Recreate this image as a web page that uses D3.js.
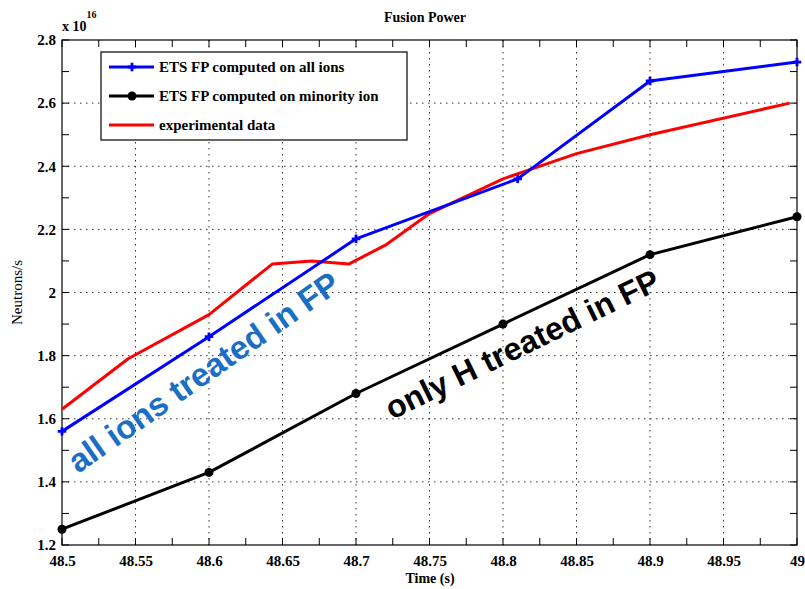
<!DOCTYPE html>
<html>
<head>
<meta charset="utf-8">
<script src="https://cdn.jsdelivr.net/npm/d3@7"></script>
<style>
  body { margin: 0; background: #fff; }
</style>
</head>
<body>
<script>
// values in units of 1e16 neutrons/s
var allIonsT = [48.5, 48.6, 48.7, 48.81, 48.9, 49.0];
var allIonsV = [1.56, 1.86, 2.17, 2.36, 2.67, 2.73];

var minorityT = [48.5, 48.6, 48.7, 48.8, 48.9, 49.0];
var minorityV = [1.25, 1.43, 1.68, 1.90, 2.12, 2.24];

var expT = [48.5, 48.545, 48.6, 48.643, 48.67, 48.695, 48.72, 48.75, 48.8, 48.85, 48.9, 48.995];
var expV = [1.63, 1.79, 1.93, 2.09, 2.10, 2.09, 2.15, 2.25, 2.36, 2.44, 2.50, 2.60];

var xTicks = [48.5, 48.55, 48.6, 48.65, 48.7, 48.75, 48.8, 48.85, 48.9, 48.95, 49];
var yTicks = [1.2, 1.4, 1.6, 1.8, 2, 2.2, 2.4, 2.6, 2.8];

var legendLabels = ["ETS FP computed on all ions", "ETS FP computed on minority ion", "experimental data"];

var W = 805, H = 589;
var margin = {left: 62, right: 8, top: 40, bottom: 44};
var w = W - margin.left - margin.right;
var h = H - margin.top - margin.bottom;
var serif = "'Liberation Serif', 'DejaVu Serif', serif";
var sans = "'Liberation Sans', Arial, sans-serif";

var svg = d3.select("body").append("svg").attr("width", W).attr("height", H);
var g = svg.append("g").attr("transform", "translate(" + margin.left + "," + margin.top + ")");

var x = d3.scaleLinear().domain([48.5, 49]).range([0, w]);
var y = d3.scaleLinear().domain([1.2, 2.8]).range([h, 0]);

// grid
g.selectAll(".gx").data(xTicks.slice(1, -1)).enter().append("line")
  .attr("x1", function(d){ return x(d); }).attr("x2", function(d){ return x(d); })
  .attr("y1", 0).attr("y2", h)
  .attr("stroke", "#333").attr("stroke-width", 1).attr("stroke-dasharray", "1.5,4.5");
g.selectAll(".gy").data(yTicks.slice(1, -1)).enter().append("line")
  .attr("y1", function(d){ return y(d); }).attr("y2", function(d){ return y(d); })
  .attr("x1", 0).attr("x2", w)
  .attr("stroke", "#333").attr("stroke-width", 1).attr("stroke-dasharray", "1.5,4.5");

// inward ticks on all four sides
var xMinor = d3.range(48.5, 49.001, 0.025);
var yMinor = d3.range(1.2, 2.801, 0.1);

function tickSet(sel, vals, horiz, pos, len) {
  sel.selectAll(null).data(vals).enter().append("line")
    .attr("x1", function(d){ return horiz ? x(d) : pos; })
    .attr("x2", function(d){ return horiz ? x(d) : pos + len; })
    .attr("y1", function(d){ return horiz ? pos : y(d); })
    .attr("y2", function(d){ return horiz ? pos + len : y(d); })
    .attr("stroke", "#000").attr("stroke-width", 1);
}
tickSet(g, xMinor, true, h, -7);
tickSet(g, xMinor, true, 0, 7);
tickSet(g, yMinor, false, 0, 7);
tickSet(g, yMinor, false, w, -7);

g.append("rect").attr("width", w).attr("height", h)
  .attr("fill", "none").attr("stroke", "#000").attr("stroke-width", 1.2);

var xAxis = d3.axisBottom(x).tickValues(xTicks).tickSize(0).tickPadding(10)
  .tickFormat(function(d){ return String(+d.toFixed(2)); });
var yAxis = d3.axisLeft(y).tickValues(yTicks).tickSize(0).tickPadding(6)
  .tickFormat(function(d){ return String(+d.toFixed(1)); });

var gx = g.append("g").attr("transform", "translate(0," + h + ")").call(xAxis);
var gy = g.append("g").call(yAxis);
[gx, gy].forEach(function(a){
  a.select(".domain").remove();
  a.selectAll("text").style("font-family", serif).style("font-weight", "bold")
    .style("font-size", "15px").attr("fill", "#000");
});

// exponent
var ex = svg.append("text").attr("x", 62).attr("y", 31)
  .style("font-family", serif).style("font-size", "14px").style("font-weight", "bold");
ex.append("tspan").text("x 10");
ex.append("tspan").attr("dy", -13).style("font-size", "10px").text("16");

// titles
svg.append("text").attr("x", 425).attr("y", 22).attr("text-anchor", "middle")
  .style("font-family", serif).style("font-size", "14px").style("font-weight", "bold").text("Fusion Power");
svg.append("text").attr("x", 430).attr("y", 583).attr("text-anchor", "middle")
  .style("font-family", serif).style("font-size", "14px").style("font-weight", "bold").text("Time (s)");
svg.append("text").attr("transform", "translate(22," + (margin.top + h / 2) + ") rotate(-90)")
  .attr("text-anchor", "middle").style("font-family", serif).style("font-size", "15px").text("Neutrons/s");

// series
var line = d3.line().x(function(d){ return x(d[0]); }).y(function(d){ return y(d[1]); });
var allIons = d3.zip(allIonsT, allIonsV);
var minority = d3.zip(minorityT, minorityV);
var exp = d3.zip(expT, expV);

g.append("path").datum(exp).attr("d", line).attr("fill", "none")
  .attr("stroke", "#ff0000").attr("stroke-width", 3).attr("stroke-linejoin", "round");
g.append("path").datum(minority).attr("d", line).attr("fill", "none")
  .attr("stroke", "#000").attr("stroke-width", 3).attr("stroke-linejoin", "round");
g.append("path").datum(allIons).attr("d", line).attr("fill", "none")
  .attr("stroke", "#0000ff").attr("stroke-width", 3).attr("stroke-linejoin", "round");

var plus = d3.symbol().type(d3.symbolCross).size(40);
g.selectAll(".pm").data(allIons).enter().append("path")
  .attr("d", plus)
  .attr("transform", function(d){ return "translate(" + x(d[0]) + "," + y(d[1]) + ")"; })
  .attr("fill", "#0000ff");
g.selectAll(".cm").data(minority).enter().append("circle")
  .attr("cx", function(d){ return x(d[0]); }).attr("cy", function(d){ return y(d[1]); })
  .attr("r", 4.5).attr("fill", "#000");

// legend
var lg = svg.append("g").attr("transform", "translate(101,52)");
lg.append("rect").attr("width", 306).attr("height", 88)
  .attr("fill", "#fff").attr("stroke", "#000").attr("stroke-width", 1.2);
var lcol = ["#0000ff", "#000", "#ff0000"];
legendLabels.forEach(function(t, i){
  var yy = 15 + i * 29;
  lg.append("line").attr("x1", 8).attr("x2", 53).attr("y1", yy).attr("y2", yy)
    .attr("stroke", lcol[i]).attr("stroke-width", 3);
  if (i === 0) lg.append("path").attr("d", plus).attr("transform", "translate(31," + yy + ")").attr("fill", lcol[i]);
  if (i === 1) lg.append("circle").attr("cx", 31).attr("cy", yy).attr("r", 4.5).attr("fill", "#000");
  lg.append("text").attr("x", 58).attr("y", yy + 5)
    .style("font-family", serif).style("font-size", "15px").style("font-weight", "bold").text(t);
});

// annotations
svg.append("text").attr("transform", "translate(78,474) rotate(-35)")
  .style("font-family", sans).style("font-weight", "bold").style("font-size", "33px")
  .attr("fill", "#1a6fc4").text("all ions treated in FP");
svg.append("text").attr("transform", "translate(392,420) rotate(-26)")
  .style("font-family", sans).style("font-weight", "bold").style("font-size", "32px")
  .attr("fill", "#000").text("only H treated in FP");
</script>
</body>
</html>
